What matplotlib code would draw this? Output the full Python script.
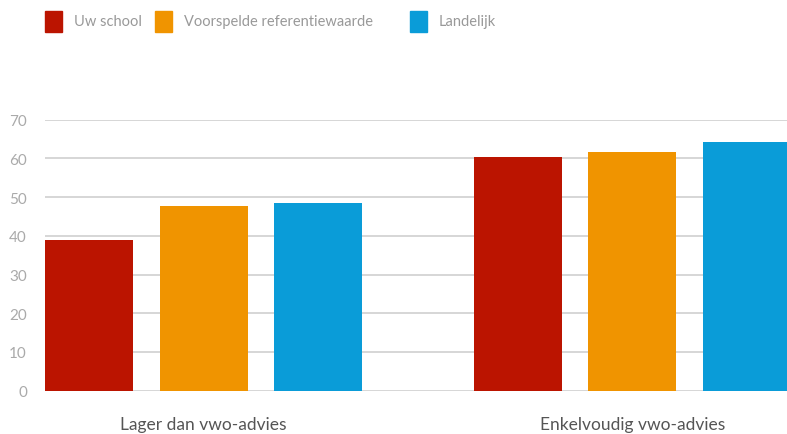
import numpy as np
import matplotlib
matplotlib.use("Agg")
import matplotlib.pyplot as plt
from matplotlib.patches import Rectangle

# data
categories = ["Lager dan vwo-advies", "Enkelvoudig vwo-advies"]
series_names = ["Uw school", "Voorspelde referentiewaarde", "Landelijk"]
uw_school = [39.0, 60.4]
voorspeld = [47.8, 61.7]
landelijk = [48.4, 64.2]
yticks = [0, 10, 20, 30, 40, 50, 60, 70]

colors = ["#bb1400", "#f09400", "#0a9cd8"]
plt.rcParams['font.family'] = ['Lato', 'DejaVu Sans']

W, H = 787, 435
fig = plt.figure(figsize=(W / 100, H / 100), dpi=100)
# axes spans a bit past the right edge, like the original (clipped blue bar)
ax = fig.add_axes([45 / W, (H - 391.7) / H, (791 - 45) / W, 271 / H])

x = np.arange(len(categories))
bw = 0.205
step = 0.267
for i, vals in enumerate([uw_school, voorspeld, landelijk]):
    ax.bar(x + (i - 1) * step, vals, width=bw, color=colors[i], zorder=3)

ax.set_xlim(-0.37, 1.37)
ax.set_ylim(0, 70)
ax.set_yticks(yticks)
ax.set_yticklabels([str(v) for v in yticks])
ax.yaxis.grid(True, color="#cccccc", linewidth=1.1, zorder=0)
for s in ax.spines.values():
    s.set_visible(False)
ax.tick_params(axis="y", length=0, pad=13, labelsize=11, labelcolor="#aaaaaa")
ax.set_xticks(x)
ax.set_xticklabels(categories)
ax.tick_params(axis="x", length=0, pad=18, labelsize=12.5, labelcolor="#555555")

# legend drawn by hand so the spacing matches
leg_x = [45, 155, 410]
for xi, name, c in zip(leg_x, series_names, colors):
    fig.patches.append(Rectangle((xi / W, (H - 33) / H), 17 / W, 21 / H,
                                 transform=fig.transFigure, color=c))
    fig.text((xi + 29) / W, (H - 22) / H, name, ha="left", va="center",
             fontsize=10.5, color="#999999")

fig.savefig("out.png", dpi=100)
